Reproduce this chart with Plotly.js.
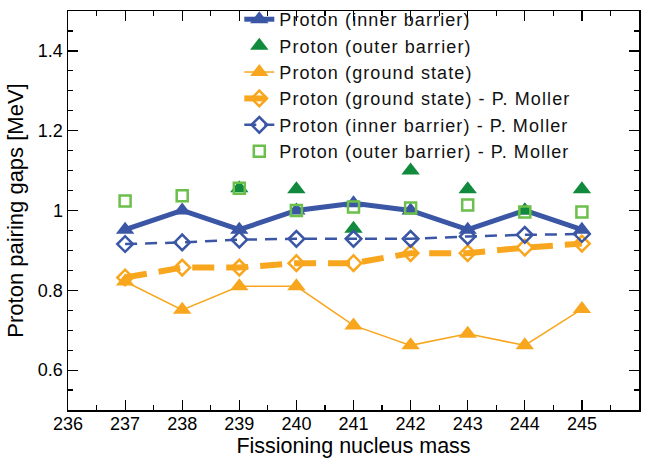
<!DOCTYPE html>
<html>
<head>
<meta charset="utf-8">
<script src="https://cdn.plot.ly/plotly-3.0.1.min.js"></script>
<style>html,body{margin:0;padding:0;background:#fff;}#chart{width:654px;height:459px;}
#chart .legendtext{letter-spacing:1.1px;}
#chart g.legend g.scrollbox, #chart g.legend{clip-path:none !important;}</style>
</head>
<body>
<div id="chart"></div>
<script>
const masses = [237, 238, 239, 240, 241, 242, 243, 244, 245];
const innerBarrier = [0.952, 1.0, 0.952, 1.0, 1.018, 1.0, 0.952, 1.0, 0.952];
const outerMasses = [239, 240, 241, 242, 243, 244, 245];
const outerBarrier = [1.056, 1.053, 0.954, 1.10, 1.053, 1.0, 1.053];
const groundState = [0.822, 0.751, 0.81, 0.81, 0.712, 0.662, 0.691, 0.662, 0.753];
const groundMoller = [0.832, 0.857, 0.857, 0.868, 0.868, 0.893, 0.893, 0.907, 0.917];
const innerMoller = [0.916, 0.92, 0.927, 0.929, 0.929, 0.929, 0.935, 0.939, 0.941];
const outerMoller = [1.024, 1.037, 1.056, 1.0, 1.009, 1.006, 1.014, 0.996, 0.996];

const BLUE = '#3a56a5', ORANGE = '#f8a61e', DKGREEN = '#118a3e', LTGREEN = '#6bbf4b';
const FONT = 'Liberation Sans, Arial, Helvetica, sans-serif';

const traces = [
  {x: masses, y: innerBarrier, name: 'Proton (inner barrier)', mode: 'lines+markers',
   line: {color: BLUE, width: 5}, marker: {symbol: 'triangle-up', size: 16, color: BLUE}},
  {x: outerMasses, y: outerBarrier, name: 'Proton (outer barrier)', mode: 'markers',
   marker: {symbol: 'triangle-up', size: 16, color: DKGREEN}},
  {x: masses, y: groundState, name: 'Proton (ground state)', mode: 'lines+markers',
   line: {color: ORANGE, width: 1.5}, marker: {symbol: 'triangle-up', size: 16, color: ORANGE}},
  {x: masses, y: groundMoller, name: 'Proton (ground state) - P. Moller', mode: 'lines+markers',
   line: {color: ORANGE, width: 6, dash: '22px,12px'},
   marker: {symbol: 'diamond-open', size: 12, color: ORANGE, line: {width: 2.5, color: ORANGE}}},
  {x: masses, y: innerMoller, name: 'Proton (inner barrier) - P. Moller', mode: 'lines+markers',
   line: {color: BLUE, width: 2.5, dash: '12px,8px'},
   marker: {symbol: 'diamond-open', size: 12, color: BLUE, line: {width: 2.5, color: BLUE}}},
  {x: masses, y: outerMoller, name: 'Proton (outer barrier) - P. Moller', mode: 'markers',
   marker: {symbol: 'square-open', size: 11, color: LTGREEN, line: {width: 2.5, color: LTGREEN}}}
];

const axisCommon = {
  showgrid: false, zeroline: false, showline: true, linecolor: '#000', linewidth: 1.5,
  mirror: 'ticks', ticks: 'inside', ticklen: 10, tickwidth: 1.2, tickcolor: '#000',
  tickfont: {family: FONT, size: 18, color: '#000'}
};

const layout = {
  width: 654, height: 459,
  margin: {l: 68, r: 15, t: 11, b: 49, autoexpand: false},
  paper_bgcolor: '#fff', plot_bgcolor: '#fff',
  font: {family: FONT, color: '#000'},
  showlegend: true,
  legend: {x: 0.3, y: 1.025, xanchor: 'left', yanchor: 'top', bgcolor: 'rgba(0,0,0,0)',
           borderwidth: 0, font: {family: FONT, size: 18, color: '#111'}, tracegroupgap: 0},
  xaxis: Object.assign({}, axisCommon, {
    range: [236, 246], dtick: 1, tick0: 236, ticklabelstandoff: -3,
    minor: {dtick: 0.5, ticks: 'inside', ticklen: 5, tickcolor: '#000', showgrid: false},
    title: {text: 'Fissioning nucleus mass', font: {family: FONT, size: 21.5, color: '#000'}, standoff: 0}
  }),
  yaxis: Object.assign({}, axisCommon, {
    range: [0.5, 1.5], dtick: 0.2, tick0: 0,
    minor: {dtick: 0.05, ticks: 'inside', ticklen: 5, tickcolor: '#000', showgrid: false},
    title: {text: 'Proton pairing gaps [MeV]', font: {family: FONT, size: 22, color: '#000'}, standoff: 8}
  })
};

Plotly.newPlot('chart', traces, layout, {displayModeBar: false, staticPlot: true});
</script>
</body>
</html>
